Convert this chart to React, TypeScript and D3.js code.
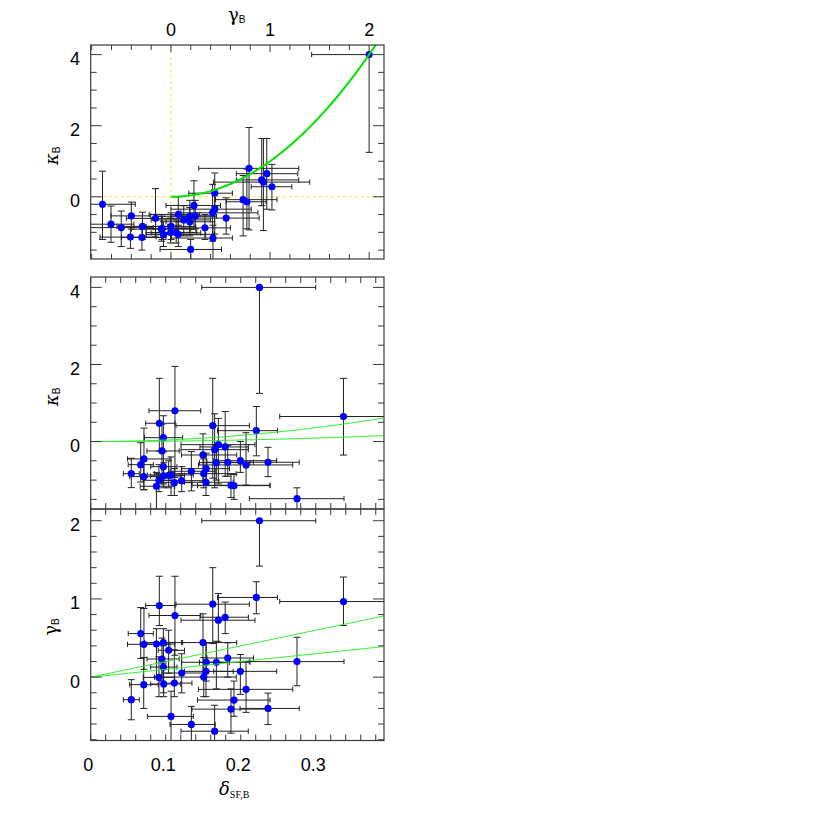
import React from 'react';
import * as d3 from 'd3';

// ---- data (one entry per object) ----
const delta   = [0.225, 0.337, 0.0915, 0.1123, 0.1627, 0.2208, 0.1793, 0.1702, 0.0667, 0.071, 0.0876, 0.0969, 0.1039, 0.1497, 0.095, 0.0969, 0.154, 0.1675, 0.1827, 0.275, 0.1213, 0.1537, 0.1507, 0.091, 0.1995, 0.0707, 0.0973, 0.1115, 0.2071, 0.0541, 0.191, 0.187, 0.2364, 0.1071, 0.1342, 0.1652];
const deltaLo = [0.148, 0.252, 0.0733, 0.0777, 0.1137, 0.169, 0.1457, 0.1204, 0.05, 0.049, 0.066, 0.0716, 0.09, 0.121, 0.075, 0.08, 0.121, 0.145, 0.155, 0.2115, 0.095, 0.125, 0.085, 0.07, 0.164, 0.052, 0.08, 0.095, 0.1436, 0.0435, 0.1424, 0.135, 0.1991, 0.0755, 0.1057, 0.1204];
const deltaHi = [0.300, 0.45, 0.1124, 0.1467, 0.2115, 0.249, 0.2102, 0.219, 0.0835, 0.1057, 0.112, 0.1226, 0.125, 0.1946, 0.118, 0.115, 0.185, 0.2124, 0.217, 0.3377, 0.15, 0.19, 0.194, 0.112, 0.2479, 0.09, 0.12, 0.135, 0.2693, 0.0648, 0.2391, 0.239, 0.278, 0.1368, 0.166, 0.2101];
const gamma   = [2.0, 0.967, 0.916, 0.788, 0.933, 1.019, 0.766, 0.728, 0.557, 0.42, 0.424, 0.442, 0.343, 0.442, 0.232, 0.129, 0.19, 0.19, 0.245, 0.199, 0.053, 0.074, 0.001, -0.003, 0.074, -0.096, -0.088, -0.076, -0.156, -0.288, -0.293, -0.409, -0.4, -0.502, -0.605, -0.691];
const gammaLo = [1.42, 0.66, 0.66, 0.28, 0.43, 0.81, 0.557, 0.45, 0.24, 0.1, 0.0, 0.18, 0.05, 0.0, -0.05, -0.2, -0.05, -0.15, 0.0, -0.11, -0.2, -0.25, -0.25, -0.25, -0.22, -0.4, -0.25, -0.25, -0.45, -0.545, -0.5, -0.716, -0.605, -0.9, -0.9, -0.9];
const gammaHi = [2.0, 1.28, 1.29, 1.29, 1.4, 1.22, 0.96, 1.07, 0.89, 0.878, 0.62, 0.62, 0.6, 0.81, 0.5, 0.4, 0.44, 0.46, 0.44, 0.51, 0.3, 0.44, 0.25, 0.26, 0.29, 0.25, 0.2, 0.35, 0.2, -0.032, -0.05, -0.15, -0.204, -0.18, -0.374, -0.36];
const kappa   = [4.0, 0.65, 0.475, 0.8, 0.413, 0.283, -0.14, -0.08, -0.599, -0.451, -1.16, 0.101, -0.874, -0.348, -0.244, -0.651, -0.703, -0.547, -0.537, -1.482, -1.015, -1.056, -0.833, -1.004, -0.496, -0.911, -0.893, -1.066, -0.607, -0.833, -1.144, -1.134, -0.537, -0.867, -0.771, -0.21];
const kappaLo = [1.25, -0.35, -0.25, -0.93, -0.95, -0.37, -0.9, -1.1, -1.05, -1.25, -1.8, -0.27, -1.2, -1.05, -0.9, -1.1, -1.1, -1.0, -0.9, -1.9, -1.3, -1.4, -1.2, -1.3, -0.8, -1.25, -1.2, -1.4, -1.13, -1.195, -1.5, -1.45, -0.91, -1.4, -1.28, -1.2];
const kappaHi = [4.0, 1.64, 1.64, 1.95, 1.64, 0.91, 0.78, 0.6, -0.03, 0.35, -0.8, 0.67, -0.5, 0.2, 0.45, -0.25, -0.3, -0.1, -0.1, -1.2, -0.65, -0.7, -0.45, -0.6, 0.0, -0.5, -0.55, -0.7, 0.23, -0.434, -0.85, -0.85, -0.149, -0.4, -0.26, 0.72];

const gammaLabels = [0, 1, 2];
const kappaLabels = [0, 2, 4];
const deltaLabels = [0, 0.1, 0.2, 0.3];
const slopes = [2, 1]; // gamma = s * delta ; kappa = gamma^2

// ---- layout ----
const L = 90.7, R = 384;
const P1 = { top: 45, bottom: 259 };
const P2 = { top: 277, bottom: 509 };
const P3 = { top: 509, bottom: 740.5 };
const GDOM: [number, number] = [-0.81, 2.15];
const KDOM: [number, number] = [-1.75, 4.27];
const DDOM: [number, number] = [0, 0.391];

const AX = '#3a3a3a';
const EB = '#222';
const PT = '#0000ff';
const FONT = 'Liberation Sans, Arial, Helvetica, sans-serif';
const SERIF = 'DejaVu Serif, Liberation Serif, serif';

type Scale = d3.ScaleLinear<number, number>;

function range(a: number, b: number, s: number) {
  return d3.range(Math.round(a / s) * s, b + 1e-9, s).filter(v => v >= a - 1e-9 && v <= b + 1e-9);
}

function Frame({ x, y, xMinor, xMajor, yMinor, yMajor, xLenMaj, xLenMin, yLenMaj, yLenMin }: any) {
  const [x0, x1] = x.range();
  const [y0, y1] = [Math.max(...y.range()), Math.min(...y.range())];
  const xd = x.domain(), yd = y.domain();
  const segs: string[] = [];
  range(xd[0], xd[1], xMinor).forEach((v: number) => {
    const isMaj = Math.abs(v / xMajor - Math.round(v / xMajor)) < 1e-6;
    const len = isMaj ? xLenMaj : xLenMin;
    const px = x(v);
    segs.push(`M${px},${y0}V${y0 - len}`);
    segs.push(`M${px},${y1}V${y1 + len}`);
  });
  range(yd[0], yd[1], yMinor).forEach((v: number) => {
    const isMaj = Math.abs(v / yMajor - Math.round(v / yMajor)) < 1e-6;
    const len = isMaj ? yLenMaj : yLenMin;
    const py = y(v);
    segs.push(`M${x0},${py}H${x0 + len}`);
    segs.push(`M${x1},${py}H${x1 - len}`);
  });
  return (
    <g>
      <path d={segs.join('')} stroke={AX} strokeWidth={1} fill="none" />
      <rect x={x0} y={y1} width={x1 - x0} height={y0 - y1} fill="none" stroke={AX} strokeWidth={1.2} />
    </g>
  );
}

function ErrorPoints({ id, x, y, xs, xlo, xhi, ys, ylo, yhi }: any) {
  const [x0, x1] = x.range();
  const ys0 = Math.min(...y.range()), ys1 = Math.max(...y.range());
  const segs: string[] = [];
  const cw = 3.5, ch = 2.6;
  xs.forEach((v: number, i: number) => {
    const px = x(v), py = y(ys[i]);
    const a = x(xlo[i]), b = x(xhi[i]);
    if (Math.abs(a - px) > 0.5) segs.push(`M${px},${py}H${a}M${a},${py - ch}V${py + ch}`);
    if (Math.abs(b - px) > 0.5) segs.push(`M${px},${py}H${b}M${b},${py - ch}V${py + ch}`);
    const c = y(ylo[i]), d = y(yhi[i]);
    if (Math.abs(c - py) > 0.5) segs.push(`M${px},${py}V${c}M${px - cw},${c}H${px + cw}`);
    if (Math.abs(d - py) > 0.5) segs.push(`M${px},${py}V${d}M${px - cw},${d}H${px + cw}`);
  });
  return (
    <g>
      <defs>
        <clipPath id={id}>
          <rect x={x0} y={ys0} width={x1 - x0} height={ys1 - ys0} />
        </clipPath>
      </defs>
      <g clipPath={`url(#${id})`}>
        <path d={segs.join('')} stroke={EB} strokeWidth={1} fill="none" />
        {xs.map((v: number, i: number) => (
          <circle key={i} cx={x(v)} cy={y(ys[i])} r={3.6} fill={PT} />
        ))}
      </g>
    </g>
  );
}

export default function App() {
  const gx1: Scale = d3.scaleLinear().domain(GDOM).range([L, R]);
  const ky1: Scale = d3.scaleLinear().domain(KDOM).range([P1.bottom, P1.top]);
  const dx: Scale = d3.scaleLinear().domain(DDOM).range([L, R]);
  const ky2: Scale = d3.scaleLinear().domain(KDOM).range([P2.bottom, P2.top]);
  const gy3: Scale = d3.scaleLinear().domain(GDOM).range([P3.bottom, P3.top]);

  // curves
  const gVals = d3.range(0, 2.1, 0.01);
  const curve1 = d3.line<number>().x(g => gx1(g)).y(g => ky1(g * g))(gVals) || '';
  const dVals = d3.range(0, DDOM[1] + 0.001, 0.002);
  const curves2 = slopes.map(s => d3.line<number>().x(d => dx(d)).y(d => ky2((s * d) ** 2))(dVals) || '');
  const lines3 = slopes.map(s => d3.line<number>().x(d => dx(d)).y(d => gy3(s * d))(dVals) || '');

  const labelStyle = { fontFamily: FONT, fontSize: 18, fill: '#000' } as const;
  const greek = { fontFamily: SERIF, fontSize: 18, fill: '#000' } as const;
  const kap = { ...greek, fontStyle: 'italic' } as const;

  return (
    <svg width={830} height={830} style={{ position: 'absolute', left: 0, top: 0, background: '#fff' }}>
      <rect x={0} y={0} width={830} height={830} fill="#fff" />

      {/* Panel 1 */}
      <defs>
        <clipPath id="c1"><rect x={L} y={P1.top} width={R - L} height={P1.bottom - P1.top} /></clipPath>
      </defs>
      <line x1={gx1(0)} x2={gx1(0)} y1={P1.top} y2={P1.bottom} stroke="#f0e000" strokeWidth={0.8} strokeDasharray="3,3" />
      <line x1={L} x2={R} y1={ky1(0)} y2={ky1(0)} stroke="#f0e000" strokeWidth={0.8} strokeDasharray="3,3" />
      <ErrorPoints id="e1" x={gx1} y={ky1} xs={gamma} xlo={gammaLo} xhi={gammaHi} ys={kappa} ylo={kappaLo} yhi={kappaHi} />
      <path d={curve1} stroke="#00e400" strokeWidth={2} fill="none" clipPath="url(#c1)" />
      <Frame x={gx1} y={ky1} xMinor={0.2} xMajor={1} yMinor={0.5} yMajor={2} xLenMaj={7} xLenMin={5} yLenMaj={11} yLenMin={6} />
      {gammaLabels.map(v => (
        <text key={v} x={gx1(v)} y={36} textAnchor="middle" style={labelStyle}>{v}</text>
      ))}
      {kappaLabels.map(v => (
        <text key={v} x={80} y={ky1(v) + 10.5} textAnchor="end" style={labelStyle}>{v}</text>
      ))}
      <text x={228} y={21} style={greek}>γ<tspan fontSize={10} fontFamily={FONT} dy={2}>B</tspan></text>
      <text transform={`translate(58,${(P1.top + P1.bottom) / 2 + 13}) rotate(-90)`} style={kap}>κ<tspan fontSize={10} fontFamily={FONT} fontStyle="normal" dy={2}>B</tspan></text>

      {/* Panel 2 */}
      <ErrorPoints id="e2" x={dx} y={ky2} xs={delta} xlo={deltaLo} xhi={deltaHi} ys={kappa} ylo={kappaLo} yhi={kappaHi} />
      {curves2.map((c, i) => <path key={i} d={c} stroke="#22ee22" strokeWidth={1} fill="none" />)}
      <Frame x={dx} y={ky2} xMinor={0.02} xMajor={0.1} yMinor={0.5} yMajor={2} xLenMaj={6} xLenMin={6} yLenMaj={11} yLenMin={6} />
      {kappaLabels.map(v => (
        <text key={v} x={80} y={ky2(v) + 10.5} textAnchor="end" style={labelStyle}>{v}</text>
      ))}
      <text transform={`translate(58,${(P2.top + P2.bottom) / 2 + 13}) rotate(-90)`} style={kap}>κ<tspan fontSize={10} fontFamily={FONT} fontStyle="normal" dy={2}>B</tspan></text>

      {/* Panel 3 */}
      <ErrorPoints id="e3" x={dx} y={gy3} xs={delta} xlo={deltaLo} xhi={deltaHi} ys={gamma} ylo={gammaLo} yhi={gammaHi} />
      {lines3.map((c, i) => <path key={i} d={c} stroke="#22ee22" strokeWidth={1} fill="none" />)}
      <Frame x={dx} y={gy3} xMinor={0.02} xMajor={0.1} yMinor={0.2} yMajor={1} xLenMaj={6} xLenMin={6} yLenMaj={11} yLenMin={6} />
      {gammaLabels.map(v => (
        <text key={v} x={80} y={gy3(v) + 10.5} textAnchor="end" style={labelStyle}>{v}</text>
      ))}
      {deltaLabels.map(v => (
        <text key={v} x={dx(v) - 2.5} y={771} textAnchor="middle" style={labelStyle}>{v}</text>
      ))}
      <text transform={`translate(57,${(P3.top + P3.bottom) / 2 + 11}) rotate(-90)`} style={greek}>γ<tspan fontSize={10} fontFamily={FONT} dy={2}>B</tspan></text>
      <text x={219} y={795} style={{ ...greek, fontStyle: 'italic' }}>δ<tspan fontSize={10} fontFamily="Liberation Serif, serif" fontStyle="normal" dy={3}>SF,B</tspan></text>
    </svg>
  );
}
